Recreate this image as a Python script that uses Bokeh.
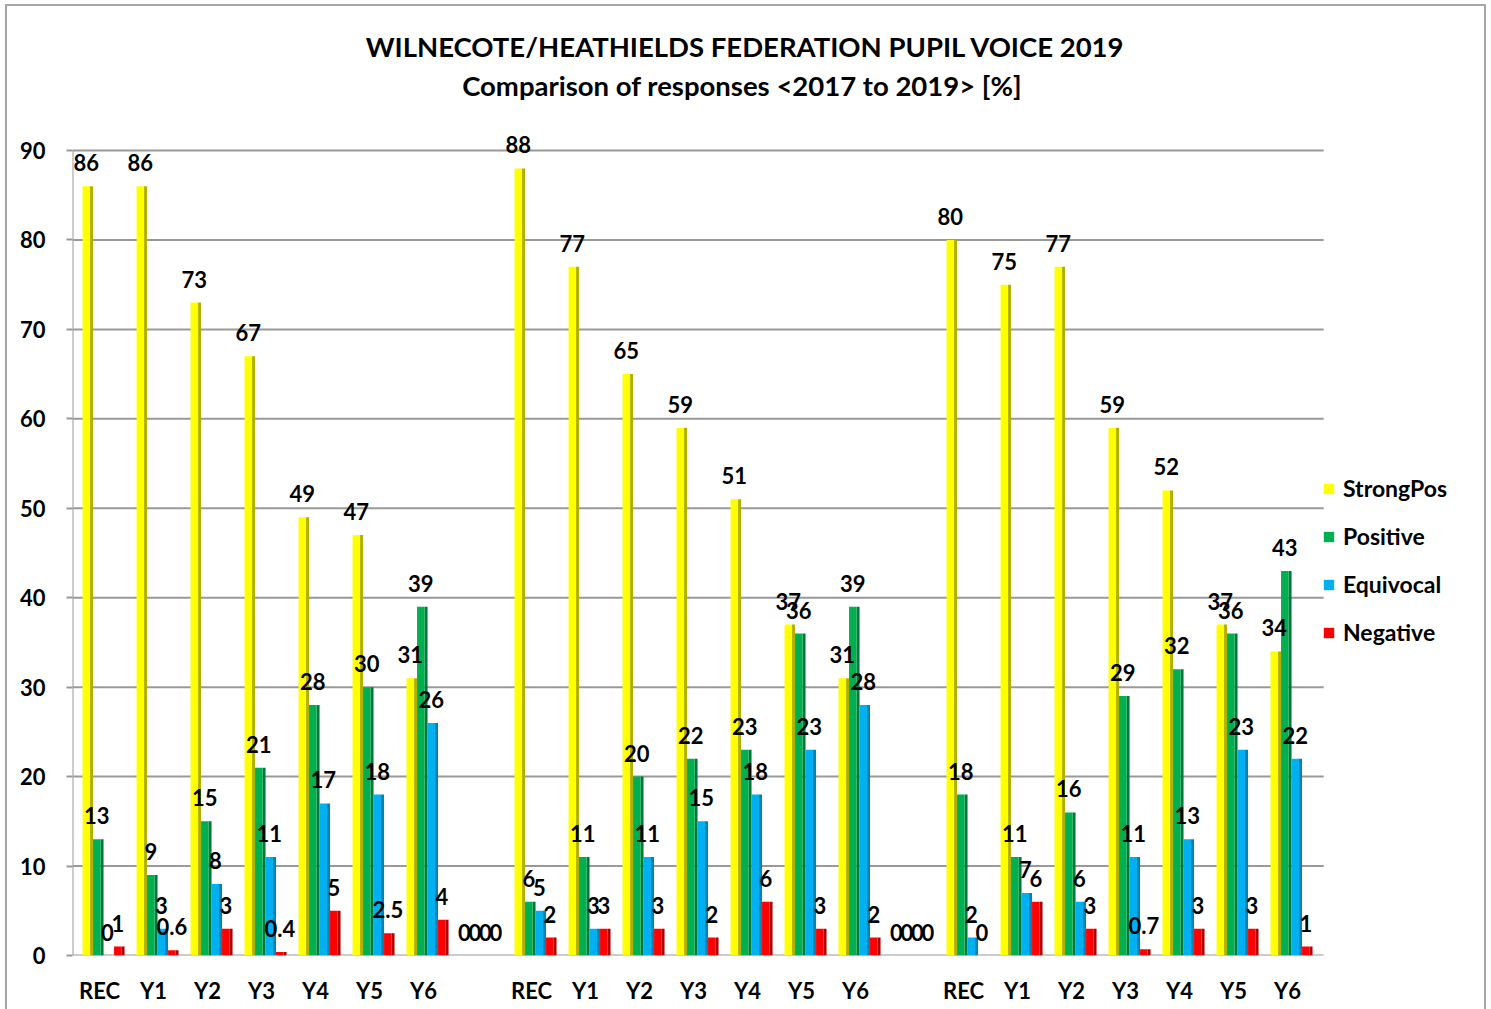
from bokeh.plotting import figure
from bokeh.models import (Range1d, FixedTicker, Legend, LegendItem, LabelSet,
                          ColumnDataSource, Label)
from bokeh.core.properties import value
from bokeh.embed import file_html
from bokeh.resources import INLINE

# ---------------- data ----------------
TITLE_1 = "WILNECOTE/HEATHIELDS FEDERATION PUPIL VOICE 2019"
TITLE_2 = "Comparison of responses  <2017 to 2019> [%]"
TICK_LABELS = ["REC", "Y1", "Y2", "Y3", "Y4", "Y5", "Y6", "",
               "REC", "Y1", "Y2", "Y3", "Y4", "Y5", "Y6", "",
               "REC", "Y1", "Y2", "Y3", "Y4", "Y5", "Y6"]
SERIES = ["StrongPos", "Positive", "Equivocal", "Negative"]
STRONGPOS = [86, 86, 73, 67, 49, 47, 31, 0,
             88, 77, 65, 59, 51, 37, 31, 0,
             80, 75, 77, 59, 52, 37, 34]
POSITIVE = [13, 9, 15, 21, 28, 30, 39, 0,
            6, 11, 20, 22, 23, 36, 39, 0,
            18, 11, 16, 29, 32, 36, 43]
EQUIVOCAL = [0, 3, 8, 11, 17, 18, 26, 0,
             5, 3, 11, 15, 18, 23, 28, 0,
             2, 7, 6, 11, 13, 23, 22]
NEGATIVE = [1, 0.6, 3, 0.4, 5, 2.5, 4, 0,
            2, 3, 3, 2, 6, 3, 2, 0,
            0, 6, 3, 0.7, 3, 3, 1]
VALUES = [STRONGPOS, POSITIVE, EQUIVOCAL, NEGATIVE]
Y_TICKS = [0, 10, 20, 30, 40, 50, 60, 70, 80, 90]

# ---------------- styles ----------------
FACE = ["#FFFF00", "#00B050", "#00B0F0", "#FF0000"]
SIDE = ["#B0B000", "#007A38", "#0082B4", "#B00000"]
GRID = "#999999"
FONT = "Lato"
PX = 1.0 / 54.0                      # one pixel in x data units
PY = 90.0 / 805.0                    # one pixel in y data units
FRAME_W, FRAME_H = 1400, 949
FRONT_OFF = [-13.2, -2.7, 7.8, 18.3]  # px
FRONT_W = 7.5
SIDE_W = 3.0
X_LO, X_HI = -0.5, 22.67             # extent of the plotting floor


def fmt(v):
    return str(int(v)) if float(v).is_integer() else str(v)


p = figure(frame_width=FRAME_W, frame_height=FRAME_H, output_backend="svg",
           toolbar_location=None,
           x_range=Range1d(X_LO, X_LO + FRAME_W * PX), y_range=Range1d(0, FRAME_H * PY),
           min_border_left=65, min_border_right=12, min_border_top=0,
           min_border_bottom=54, margin=(6, 0, 0, 7),
           styles={"outline": "2px solid #a6a6a6"})
p.outline_line_color = None
p.background_fill_color = "white"
p.border_fill_color = "white"

# gridlines and axis line limited to the plotting floor
p.segment(x0=X_LO, x1=X_HI, y0=Y_TICKS, y1=Y_TICKS, line_color=GRID, line_width=2)
p.segment(x0=X_LO, x1=X_LO, y0=Y_TICKS[0], y1=Y_TICKS[-1], line_color=GRID, line_width=2)

xs = list(range(len(TICK_LABELS)))
items = []
for k, name in enumerate(SERIES):
    vals = VALUES[k]
    fx = [x + FRONT_OFF[k] * PX for x in xs]
    sx = [x + (FRONT_OFF[k] + FRONT_W / 2 + SIDE_W / 2) * PX for x in xs]
    src = ColumnDataSource(dict(fx=fx, sx=sx, top=vals, lab=[fmt(v) for v in vals]))
    p.vbar(x="sx", top="top", bottom=0, width=SIDE_W * PX, source=src,
           fill_color=SIDE[k], line_color=None)
    r = p.vbar(x="fx", top="top", bottom=0, width=FRONT_W * PX, source=src,
               fill_color=FACE[k], line_color=None)
    items.append(LegendItem(label=name, renderers=[r]))
    ls = LabelSet(x="fx", y="top", text="lab", source=src, text_align="center",
                  text_baseline="bottom", y_offset=15, text_font=value(FONT),
                  text_font_style="bold", text_font_size="22px", text_color="black")
    p.add_layout(ls)

# axes
p.xaxis.ticker = FixedTicker(ticks=[i for i, l in enumerate(TICK_LABELS) if l])
p.xaxis.major_label_overrides = {i: l for i, l in enumerate(TICK_LABELS) if l}
p.xaxis.major_tick_line_color = None
p.xaxis.minor_tick_line_color = None
p.xaxis.major_label_standoff = 15
p.xaxis.axis_line_color = None
p.yaxis.ticker = FixedTicker(ticks=Y_TICKS)
p.yaxis.axis_line_color = None
p.yaxis.major_tick_line_color = GRID
p.yaxis.major_tick_line_width = 2
p.yaxis.major_tick_out = 6
p.yaxis.major_tick_in = 0
p.yaxis.minor_tick_line_color = None
p.yaxis.major_label_standoff = 21
for ax in (p.xaxis, p.yaxis):
    ax.major_label_text_font = FONT
    ax.major_label_text_font_style = "bold"
    ax.major_label_text_font_size = "22px"
    ax.major_label_text_color = "black"

p.xgrid.grid_line_color = None
p.ygrid.grid_line_color = None

# titles (screen units, relative to the frame's lower-left corner)
for txt, yy in ((TITLE_1, 909), (TITLE_2, 870)):
    p.add_layout(Label(x=673, y=yy, x_units="screen", y_units="screen", text=txt,
                       text_align="center", text_baseline="middle", text_font=FONT,
                       text_font_style="bold", text_font_size="27.5px",
                       text_color="black"))

legend = Legend(items=items, location=(1250, 309), orientation="vertical",
                label_text_font=FONT, label_text_font_style="bold",
                label_text_font_size="23px", label_text_color="black",
                glyph_width=13, glyph_height=13, label_height=27, spacing=20,
                label_standoff=8, padding=3, margin=0,
                border_line_color=None, background_fill_alpha=0)
p.add_layout(legend)

open("out.html", "w").write(file_html(p, INLINE))
